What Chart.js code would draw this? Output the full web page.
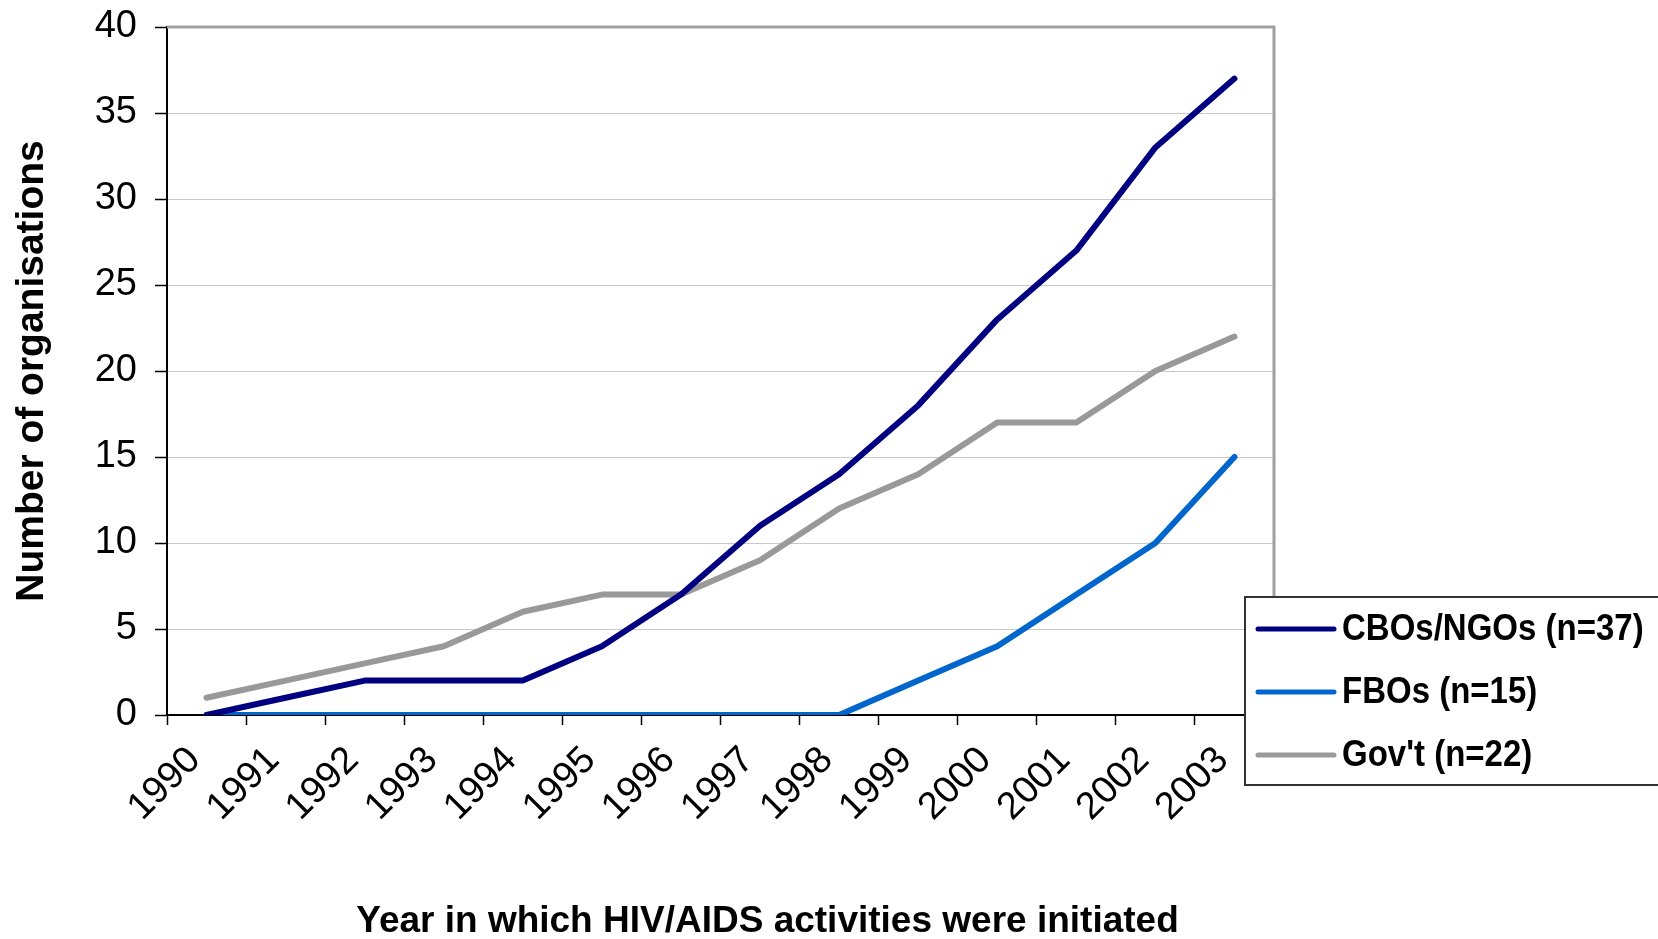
<!DOCTYPE html>
<html>
<head>
<meta charset="utf-8">
<script src="https://cdn.jsdelivr.net/npm/chart.js@4.4.0/dist/chart.umd.min.js"></script>
<style>
  html, body { margin: 0; padding: 0; background: #fff; }
  #wrap { width: 1658px; height: 939px; }
</style>
</head>
<body>
<div id="wrap"><canvas id="chart" width="1658" height="939"></canvas></div>
<script>
const years = ['1990', '1991', '1992', '1993', '1994', '1995', '1996',
  '1997', '1998', '1999', '2000', '2001', '2002', '2003'];
const cbos = [0, 1, 2, 2, 2, 4, 7, 11, 14, 18, 23, 27, 33, 37];
const fbos = [0, 0, 0, 0, 0, 0, 0, 0, 0, 2, 4, 7, 10, 15];
const govt = [1, 2, 3, 4, 6, 7, 7, 9, 12, 14, 17, 17, 20, 22];
const seriesNames = ['CBOs/NGOs (n=37)', 'FBOs (n=15)', "Gov't (n=22)"];
const yTicks = [0, 5, 10, 15, 20, 25, 30, 35, 40];
const xTitle = 'Year in which HIV/AIDS activities were initiated';

const FONT = "'Liberation Sans', Arial, sans-serif";

// grey frame on top and right of the plot
const framePlugin = {
  id: 'frame',
  beforeDatasetsDraw(chart) {
    const { ctx, chartArea: a } = chart;
    ctx.save();
    ctx.strokeStyle = '#a0a0a0';
    ctx.lineWidth = 3;
    ctx.beginPath();
    ctx.moveTo(a.left, a.top);
    ctx.lineTo(a.right, a.top);
    ctx.lineTo(a.right, a.bottom);
    ctx.stroke();
    ctx.restore();
  },
};

// x title sits a bit right of the plot centre in the original
const xTitlePlugin = {
  id: 'xTitle',
  afterDraw(chart) {
    const { ctx, chartArea: a } = chart;
    ctx.save();
    ctx.font = 'bold 37px ' + FONT;
    ctx.fillStyle = '#000';
    ctx.textAlign = 'center';
    ctx.textBaseline = 'middle';
    ctx.fillText(xTitle, (a.left + a.right) / 2 + 47, 922);
    ctx.restore();
  },
};

// boxed legend sitting over the lower right corner
const boxLegend = {
  id: 'boxLegend',
  afterDraw(chart) {
    const { ctx, chartArea: a } = chart;
    const left = a.right - 29;
    const top = a.bottom - 118;
    ctx.save();
    ctx.fillStyle = '#fff';
    ctx.fillRect(left, top, chart.width - left + 5, 188);
    ctx.strokeStyle = '#333';
    ctx.lineWidth = 2;
    ctx.strokeRect(left, top, chart.width - left + 5, 188);
    chart.data.datasets.forEach((ds, i) => {
      const y = top + 32 + i * 63;
      ctx.strokeStyle = ds.borderColor;
      ctx.lineWidth = 5;
      ctx.lineCap = 'round';
      ctx.beginPath();
      ctx.moveTo(left + 13, y);
      ctx.lineTo(left + 89, y);
      ctx.stroke();
      // text in the original is a little tall and narrow
      ctx.save();
      ctx.translate(left + 97, y + 1);
      ctx.scale(1, 1.12);
      ctx.font = 'bold 33px ' + FONT;
      ctx.textBaseline = 'middle';
      ctx.fillStyle = '#000';
      ctx.fillText(ds.label, 0, 0);
      ctx.restore();
    });
    ctx.restore();
  },
};

const makeSet = (label, data, color) => ({
  label,
  data,
  borderColor: color,
  backgroundColor: color,
  borderWidth: 6,
  pointRadius: 0,
  tension: 0,
  borderCapStyle: 'round',
  borderJoinStyle: 'round',
});

new Chart(document.getElementById('chart'), { // eslint-disable-line no-new
  type: 'line',
  data: {
    labels: years,
    datasets: [
      makeSet(seriesNames[0], cbos, '#000080'),
      makeSet(seriesNames[1], fbos, '#0066cc'),
      makeSet(seriesNames[2], govt, '#999999'),
    ],
  },
  options: {
    responsive: false,
    animation: false,
    devicePixelRatio: 1,
    layout: { padding: { left: 0, right: 384, top: 27, bottom: 0 } },
    plugins: {
      legend: { display: false },
      tooltip: { enabled: false },
    },
    scales: {
      x: {
        offset: true,
        grid: {
          offset: true,
          drawOnChartArea: false,
          tickLength: 10,
          tickColor: '#000',
          tickWidth: 1.5,
        },
        border: { color: '#000', width: 2 },
        ticks: {
          color: '#000',
          font: { family: FONT, size: 38 },
          minRotation: 45,
          maxRotation: 45,
          padding: 13,
          labelOffset: -12,
          autoSkip: false,
        },
        afterFit(scale) { scale.height = 224; },
      },
      y: {
        min: 0,
        max: 40,
        afterBuildTicks(scale) { scale.ticks = yTicks.map((v) => ({ value: v })); },
        grid: {
          color: '#c8c8c8',
          lineWidth: 1,
          tickLength: 12,
          tickColor: '#000',
          tickWidth: 1.5,
        },
        border: { color: '#000', width: 2 },
        ticks: {
          color: '#000',
          font: { family: FONT, size: 38 },
          padding: 18,
        },
        title: {
          display: true,
          text: 'Number of organisations',
          color: '#000',
          font: { family: FONT, size: 39, weight: 'bold' },
          padding: { top: 9, bottom: 0 },
        },
        afterFit(scale) {
          scale.width = 167;
          scale.paddingTop = 0;
          scale.paddingBottom = 0;
        },
      },
    },
  },
  plugins: [framePlugin, xTitlePlugin, boxLegend],
});
</script>
</body>
</html>
